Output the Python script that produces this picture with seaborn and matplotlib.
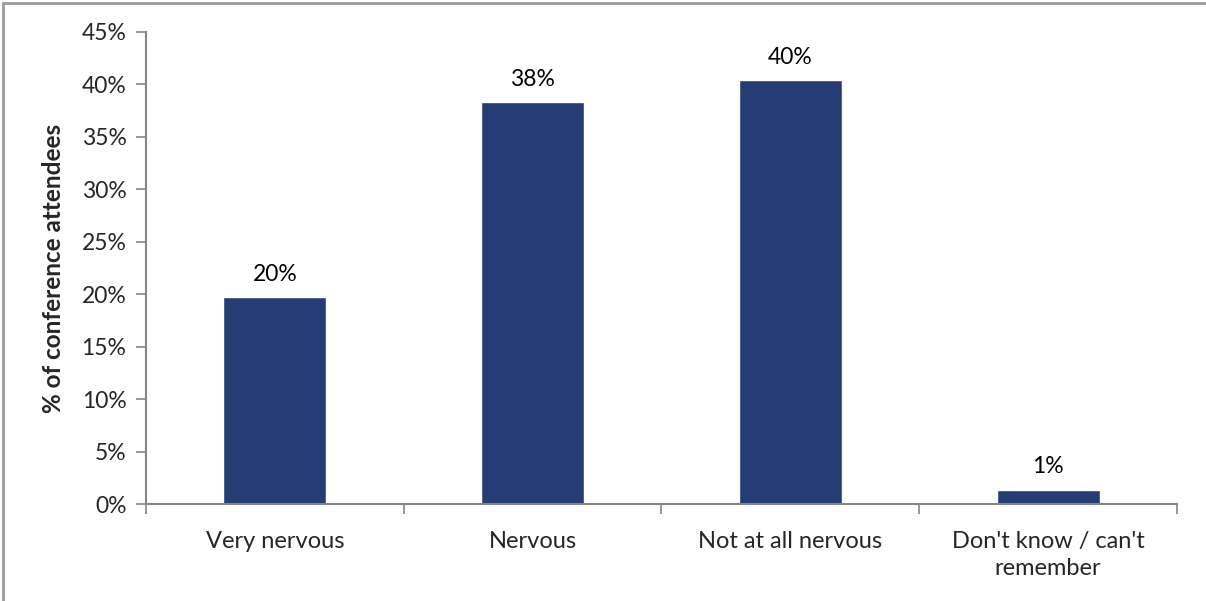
import matplotlib
matplotlib.use('Agg')
import matplotlib.pyplot as plt
from matplotlib.lines import Line2D
from matplotlib.ticker import FuncFormatter
import seaborn as sns
import pandas as pd

# Datos del gráfico
categorias = ['Very nervous', 'Nervous', 'Not at all nervous', "Don't know / can't\nremember"]
valores = [19.7, 38.3, 40.4, 1.4]
etiquetas = ['20%', '38%', '40%', '1%']

sns.set_style('white')
plt.rcParams['font.family'] = ['Lato', 'DejaVu Sans']

df = pd.DataFrame({'categoria': categorias, 'valor': valores})

fig = plt.figure(figsize=(12.06, 6.01), dpi=100)
ax = fig.add_axes([0.121, 0.161, 0.855, 0.786])

sns.barplot(data=df, x='categoria', y='valor', color='#253D74', saturation=1,
            width=0.4, ax=ax)

ax.bar_label(ax.containers[0], labels=etiquetas, padding=9, fontsize=16.5, color='black')

ax.set_ylim(0, 45)
ax.set_xlim(-0.5, 3.5)
ax.set_yticks(range(0, 50, 5))
ax.yaxis.set_major_formatter(FuncFormatter(lambda v, p: f'{int(v)}%'))

# ticks del eje x en los límites de categoría, etiquetas en el centro
ax.set_xticks([-0.5, 0.5, 1.5, 2.5, 3.5])
ax.set_xticklabels([])
ax.set_xticks(range(len(categorias)), minor=True)
ax.set_xticklabels(categorias, minor=True, fontsize=17, linespacing=1.4)
ax.tick_params(axis='x', which='minor', bottom=True, length=0, pad=19)
ax.tick_params(axis='x', which='major', bottom=True, length=7, width=1.2, color='#868686', direction='out')
ax.tick_params(axis='y', left=True, length=7, width=1.2, color='#868686', direction='out', labelsize=16.5, pad=7)

for lado in ['top', 'right']:
    ax.spines[lado].set_visible(False)
for lado in ['left', 'bottom']:
    ax.spines[lado].set_color('#868686')
    ax.spines[lado].set_linewidth(1.5)

ax.set_xlabel('')
ax.set_ylabel('% of conference attendees', fontsize=17.5, fontweight='bold', labelpad=12)

# borde del gráfico
fig.add_artist(Line2D([0.0025, 0.0025], [0, 0.995], color='#9a9a9a', lw=2, transform=fig.transFigure))
fig.add_artist(Line2D([0.0025, 1], [0.995, 0.995], color='#9a9a9a', lw=2, transform=fig.transFigure))

plt.savefig('out.png', dpi=100)
